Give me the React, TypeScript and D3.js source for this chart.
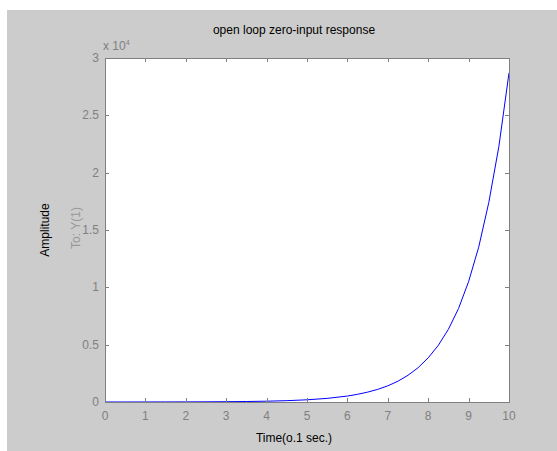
import React from "react";
import * as d3 from "d3";

// time axis (0.1 sec units) and the response
const times = [
  0, 0.5, 1, 1.5, 2, 2.5, 3, 3.5, 4, 4.5, 5, 5.5, 6, 6.25, 6.5, 6.75, 7, 7.25, 7.5, 7.75,
  8, 8.25, 8.5, 8.75, 9, 9.25, 9.5, 9.75, 10,
];
const amplitude = [
  1.3, 2.1, 3.5, 5.8, 9.5, 16, 26, 43, 70, 116, 191, 315, 520, 670, 860, 1100, 1410, 1810,
  2330, 2990, 3850, 4940, 6340, 8150, 10500, 13500, 17400, 22300, 28700,
];
const xTicks = [0, 1, 2, 3, 4, 5, 6, 7, 8, 9, 10];
const yTicks = [0, 5000, 10000, 15000, 20000, 25000, 30000];
const yTickLabels = ["0", "0.5", "1", "1.5", "2", "2.5", "3"];

const W = 557,
  H = 451;
const margin = { top: 58, right: 48, bottom: 49, left: 105 };
const axisColor = "#808080";
const font = "Liberation Sans, Arial, sans-serif";

export default function App() {
  const x = d3.scaleLinear().domain([0, 10]).range([margin.left, W - margin.right]);
  const y = d3.scaleLinear().domain([0, 30000]).range([H - margin.bottom, margin.top]);

  const line = d3
    .line<number>()
    .x((d, i) => x(times[i]))
    .y((d) => y(d));

  const x0 = x(0),
    x1 = x(10),
    y0 = y(0),
    y1 = y(30000);
  const tickLen = 4;

  return (
    <svg
      width={W}
      height={H}
      style={{ position: "absolute", left: 0, top: 0, background: "#fff" }}
      fontFamily={font}
    >
      <rect x={7} y={10} width={W - 7} height={H - 10} fill="#cccccc" />
      <rect x={x0} y={y1} width={x1 - x0} height={y0 - y1} fill="#fff" />

      <path d={line(amplitude) || ""} fill="none" stroke="#0000ff" strokeWidth={1} />

      {/* box */}
      <rect
        x={x0 + 0.5}
        y={y1 + 0.5}
        width={x1 - x0}
        height={y0 - y1}
        fill="none"
        stroke={axisColor}
        strokeWidth={1}
      />

      {xTicks.map((t) => {
        const px = Math.round(x(t)) + 0.5;
        return (
          <g key={"x" + t}>
            <line x1={px} x2={px} y1={y0} y2={y0 - tickLen} stroke={axisColor} />
            <line x1={px} x2={px} y1={y1} y2={y1 + tickLen} stroke={axisColor} />
            <text x={x(t)} y={y0 + 18} textAnchor="middle" fontSize={12} fill={axisColor}>
              {t}
            </text>
          </g>
        );
      })}

      {yTicks.map((t, i) => {
        const py = Math.round(y(t)) + 0.5;
        return (
          <g key={"y" + t}>
            <line x1={x0} x2={x0 + tickLen} y1={py} y2={py} stroke={axisColor} />
            <line x1={x1} x2={x1 - tickLen} y1={py} y2={py} stroke={axisColor} />
            <text x={x0 - 6} y={y(t) + 4} textAnchor="end" fontSize={12} fill={axisColor}>
              {yTickLabels[i]}
            </text>
          </g>
        );
      })}

      <text x={103} y={50} fontSize={12} fill={axisColor}>
        {"x 10"}
        <tspan dy={-5} fontSize={7}>
          4
        </tspan>
      </text>

      <text x={294} y={34} textAnchor="middle" fontSize={12} fill="#000">
        open loop zero-input response
      </text>
      <text x={294} y={442} textAnchor="middle" fontSize={12} fill="#000">
        Time(o.1 sec.)
      </text>
      <text transform="translate(49,230) rotate(-90)" textAnchor="middle" fontSize={12} fill="#000">
        Amplitude
      </text>
      <text transform="translate(80,228) rotate(-90)" textAnchor="middle" fontSize={12} fill="#999999">
        To: Y(1)
      </text>
    </svg>
  );
}
